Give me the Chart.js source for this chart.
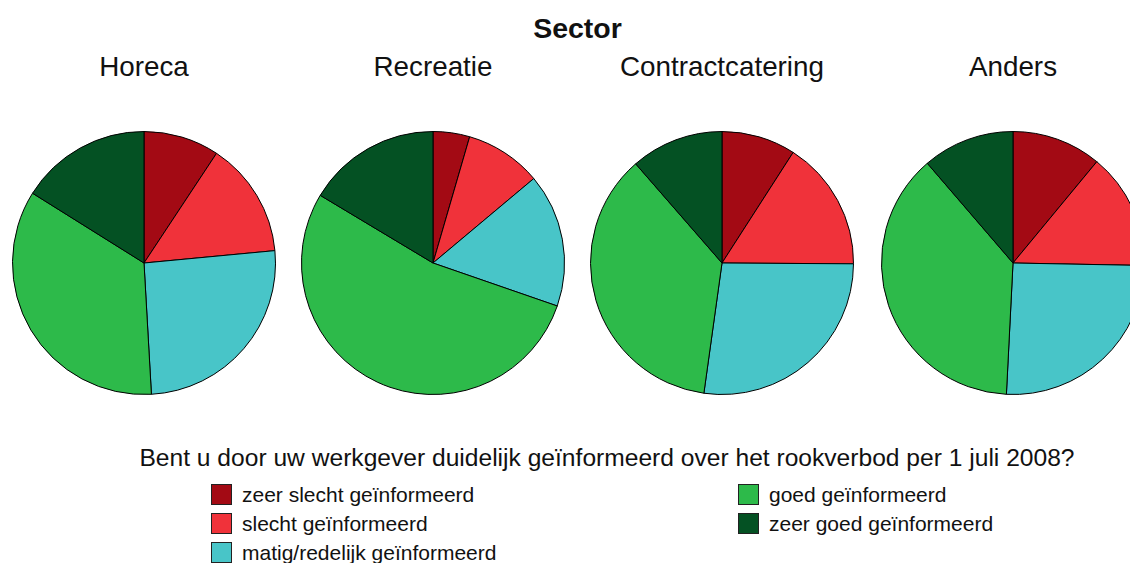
<!DOCTYPE html>
<html>
<head>
<meta charset="utf-8">
<script src="https://cdn.jsdelivr.net/npm/chart.js@4/dist/chart.umd.min.js"></script>
<style>
  html, body { margin: 0; padding: 0; background: #fff; }
  body { width: 1130px; height: 563px; overflow: hidden; position: relative; font-family: "Liberation Sans", Arial, sans-serif; color: #111; }
  .txt { position: absolute; white-space: nowrap; line-height: 1; }
  .pie { position: absolute; }
  .box { position: absolute; width: 21px; height: 21px; border: 1px solid #222; box-sizing: border-box; }
</style>
</head>
<body>
<div class="txt" id="hoofdtitel" style="left:0;width:1155px;text-align:center;top:14px;font-size:28.5px;font-weight:bold;">Sector</div>
<div id="grafieken"></div>
<div class="txt" id="legendaTitel" style="left:0;width:1214px;text-align:center;top:446px;font-size:24.6px;"></div>
<div id="legenda"></div>

<script>
// sectoren en waarden (percentages)
const sectoren = ['Horeca', 'Recreatie', 'Contractcatering', 'Anders'];
const categorieen = ['zeer slecht geïnformeerd', 'slecht geïnformeerd', 'matig/redelijk geïnformeerd', 'goed geïnformeerd', 'zeer goed geïnformeerd'];
const horeca = [9.3, 14.2, 25.6, 34.8, 16.1];
const recreatie = [4.5, 9.4, 16.4, 53.3, 16.4];
const contractcatering = [9.1, 16.0, 27.1, 36.4, 11.4];
const anders = [11.0, 14.3, 25.5, 37.9, 11.3];
const kleuren = ['#a30a14', '#f0323a', '#48c5c8', '#2dba4a', '#045123'];
const vraag = 'Bent u door uw werkgever duidelijk geïnformeerd over het rookverbod per 1 juli 2008?';

const reeksen = [horeca, recreatie, contractcatering, anders];
const middenX = [144, 433, 722, 1013];

const container = document.getElementById('grafieken');

sectoren.forEach((naam, i) => {
    const titel = document.createElement('div');
    titel.className = 'txt';
    titel.textContent = naam;
    titel.style.left = (middenX[i] - 150) + 'px';
    titel.style.width = '300px';
    titel.style.textAlign = 'center';
    titel.style.top = '53px';
    titel.style.fontSize = '27.8px';
    container.appendChild(titel);

    const canvas = document.createElement('canvas');
    canvas.className = 'pie';
    canvas.width = 264;
    canvas.height = 264;
    canvas.style.left = (middenX[i] - 132) + 'px';
    canvas.style.top = '131px';
    container.appendChild(canvas);

    new Chart(canvas.getContext('2d'), {
        type: 'pie',
        data: {
            labels: categorieen,
            datasets: [{
                data: reeksen[i],
                backgroundColor: kleuren,
                borderColor: '#000',
                borderWidth: 1
            }]
        },
        options: {
            responsive: false,
            animation: false,
            layout: { padding: 0 },
            plugins: {
                legend: { display: false },
                tooltip: { enabled: false }
            }
        }
    });
});

document.getElementById('legendaTitel').textContent = vraag;

// legenda: twee kolommen
const legenda = document.getElementById('legenda');
const kolomX = [211, 738];
const rijY = [484, 513, 542];
categorieen.forEach((cat, i) => {
    const kolom = i < 3 ? 0 : 1;
    const rij = i < 3 ? i : i - 3;
    const box = document.createElement('div');
    box.className = 'box';
    box.style.left = kolomX[kolom] + 'px';
    box.style.top = rijY[rij] + 'px';
    box.style.background = kleuren[i];
    legenda.appendChild(box);

    const label = document.createElement('div');
    label.className = 'txt';
    label.textContent = cat;
    label.style.left = (kolomX[kolom] + 31) + 'px';
    label.style.top = rijY[rij] + 'px';
    label.style.fontSize = '21px';
    legenda.appendChild(label);
});
</script>
</body>
</html>
